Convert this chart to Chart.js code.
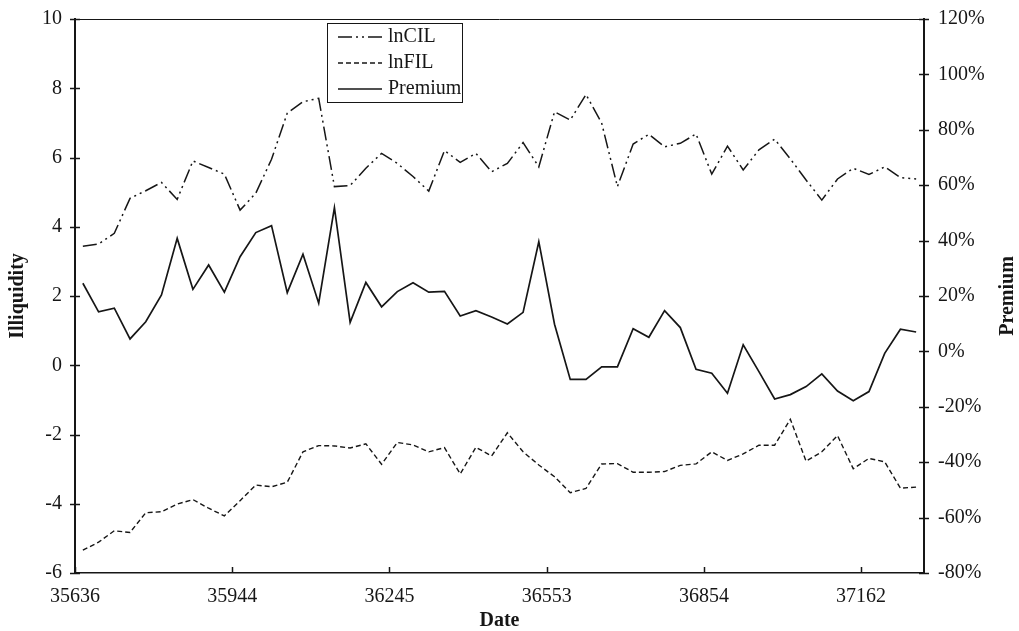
<!DOCTYPE html>
<html>
<head>
<meta charset="utf-8">
<script src="https://cdn.jsdelivr.net/npm/chart.js@4"></script>
<style>
  html, body { margin: 0; padding: 0; background: #fff; }
</style>
</head>
<body>
<canvas id="chart" width="1019" height="631"></canvas>
<script>
// monthly observations, x axis ticks every 10 months (Excel date serials)
const dateTicks = ['35636', '35944', '36245', '36553', '36854', '37162'];
const tickEvery = 10;
const months = Array.from({ length: 54 }, (_, i) => i);

const lnCIL = [3.44, 3.50, 3.81, 4.82, 5.04, 5.28, 4.79, 5.90, 5.71, 5.52,
               4.48, 4.97, 5.95, 7.28, 7.61, 7.71, 5.16, 5.19, 5.69, 6.12,
               5.83, 5.45, 5.03, 6.20, 5.86, 6.12, 5.59, 5.83, 6.43, 5.73,
               7.32, 7.08, 7.82, 6.99, 5.16, 6.39, 6.67, 6.31, 6.41, 6.68,
               5.52, 6.33, 5.64, 6.22, 6.53, 5.96, 5.35, 4.77, 5.38, 5.69,
               5.51, 5.73, 5.42, 5.38];
const lnFIL = [-5.34, -5.11, -4.78, -4.83, -4.26, -4.23, -4.01, -3.88, -4.13, -4.35,
               -3.91, -3.46, -3.51, -3.38, -2.50, -2.32, -2.33, -2.39, -2.27, -2.86,
               -2.23, -2.30, -2.50, -2.38, -3.14, -2.37, -2.62, -1.95, -2.50, -2.88,
               -3.22, -3.68, -3.56, -2.85, -2.84, -3.09, -3.09, -3.07, -2.89, -2.85,
               -2.50, -2.75, -2.56, -2.31, -2.31, -1.56, -2.77, -2.50, -2.03, -2.99,
               -2.69, -2.79, -3.55, -3.52];
// premium in percent (right axis)
const premium = [24.6, 14.3, 15.6, 4.5, 10.7, 20.4, 40.8, 22.4, 31.2, 21.4,
                 34.2, 42.9, 45.4, 21.2, 35.1, 17.4, 51.9, 10.5, 24.9, 16.1,
                 21.6, 24.8, 21.4, 21.7, 12.8, 14.7, 12.4, 9.9, 14.1, 39.6,
                 9.8, -10.1, -10.1, -5.6, -5.6, 8.2, 5.1, 14.7, 8.6, -6.5,
                 -7.9, -15.1, 2.4, -7.3, -17.2, -15.6, -12.7, -8.1, -14.3, -17.8,
                 -14.5, -0.7, 8.0, 7.0];

const ink = '#161616';
const serif = '"Liberation Serif", "Times New Roman", serif';
Chart.defaults.font.family = serif;
Chart.defaults.font.size = 20;
Chart.defaults.color = ink;

// ticks crossing the axes, top frame line, right title and the legend box
const decorations = {
  id: 'decorations',
  afterDraw(chart) {
    const { ctx, chartArea: a, scales } = chart;
    const seg = (x1, y1, x2, y2) => { ctx.beginPath(); ctx.moveTo(x1, y1); ctx.lineTo(x2, y2); ctx.stroke(); };
    ctx.save();
    ctx.strokeStyle = ink;
    ctx.fillStyle = ink;

    ctx.lineWidth = 1;
    seg(a.left, a.top + 0.5, a.right, a.top + 0.5);

    ctx.lineWidth = 1.5;
    scales.y.ticks.forEach(t => {
      const py = Math.round(scales.y.getPixelForValue(t.value)) + 0.5;
      seg(a.left - 5, py, a.left + 5, py);
    });
    scales.y2.ticks.forEach(t => {
      const py = Math.round(scales.y2.getPixelForValue(t.value)) + 0.5;
      seg(a.right - 5, py, a.right + 5, py);
    });
    const x = scales.x;
    const half = (x.getPixelForTick(1) - x.getPixelForTick(0)) / 2;
    for (let i = 0; i < months.length; i += tickEvery) {
      const px = Math.round(x.getPixelForTick(i) - half) + 0.5;
      seg(px, a.bottom, px, a.bottom - 6);
    }

    // right axis title, reading bottom to top
    ctx.save();
    ctx.font = 'bold 20px ' + serif;
    ctx.translate(1008, (a.top + a.bottom) / 2);
    ctx.rotate(-Math.PI / 2);
    ctx.textAlign = 'center';
    ctx.textBaseline = 'middle';
    ctx.fillText('Premium', 0, 0);
    ctx.restore();

    // legend
    ctx.lineWidth = 1;
    ctx.strokeRect(327.5, 23.5, 135, 79);
    ctx.font = '20px ' + serif;
    ctx.textAlign = 'left';
    ctx.textBaseline = 'middle';
    chart.data.datasets.forEach((ds, i) => {
      const ly = 37 + i * 26;
      ctx.lineWidth = ds.borderWidth;
      ctx.setLineDash(ds.borderDash || []);
      seg(338, ly, 382, ly);
      ctx.setLineDash([]);
      ctx.fillText(ds.label, 388, ly);
    });
    ctx.restore();
  }
};

new Chart(document.getElementById('chart'), {
  type: 'line',
  data: {
    labels: months,
    datasets: [
      { label: 'lnCIL', data: lnCIL, yAxisID: 'y', borderColor: ink, borderWidth: 1.5,
        borderDash: [14, 4, 2, 4, 2, 4] },
      { label: 'lnFIL', data: lnFIL, yAxisID: 'y', borderColor: ink, borderWidth: 1.4,
        borderDash: [5, 3] },
      { label: 'Premium', data: premium, yAxisID: 'y2', borderColor: ink, borderWidth: 1.7 }
    ]
  },
  options: {
    responsive: false,
    animation: false,
    events: [],
    layout: { padding: { top: 19, left: 0, right: 0, bottom: 0 } },
    elements: { point: { radius: 0 }, line: { tension: 0 } },
    plugins: { legend: { display: false }, tooltip: { enabled: false } },
    scales: {
      x: {
        type: 'category',
        offset: true,
        grid: { display: true, drawOnChartArea: false, drawTicks: false },
        border: { display: true, color: ink, width: 1.5 },
        ticks: {
          autoSkip: false, maxRotation: 0, padding: 12, labelOffset: -7.86,
          callback: (v, i) => (i % tickEvery === 0 ? dateTicks[i / tickEvery] : '')
        },
        title: { display: true, text: 'Date', font: { weight: 'bold', size: 20 }, padding: { top: 0, bottom: -2 } },
        afterFit: s => { s.height = 58; s.paddingLeft = 0; s.paddingRight = 0; }
      },
      y: {
        position: 'left', min: -6, max: 10,
        grid: { display: true, drawOnChartArea: false, drawTicks: false },
        border: { display: true, color: ink, width: 2 },
        ticks: { stepSize: 2, padding: 13 },
        title: { display: true, text: 'Illiquidity', font: { weight: 'bold', size: 20 }, padding: 6 },
        afterFit: s => { s.width = 75; s.paddingTop = 0; s.paddingBottom = 0; }
      },
      y2: {
        position: 'right', min: -80, max: 120,
        grid: { display: true, drawOnChartArea: false, drawTicks: false },
        border: { display: true, color: ink, width: 2 },
        ticks: { stepSize: 20, padding: 14, callback: v => v + '%' },
        afterFit: s => { s.width = 95; s.paddingTop = 0; s.paddingBottom = 0; }
      }
    }
  },
  plugins: [decorations]
});
</script>
</body>
</html>
